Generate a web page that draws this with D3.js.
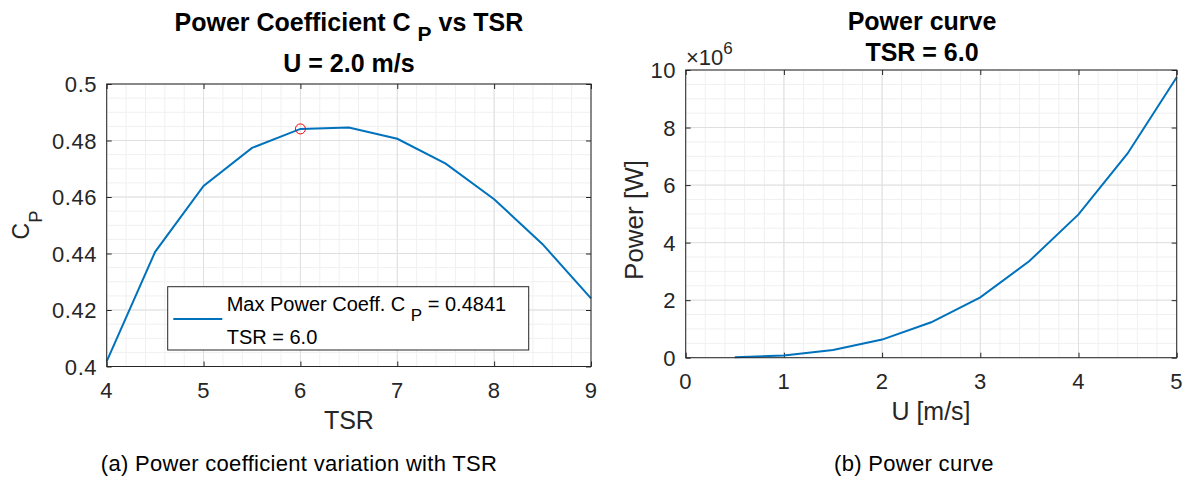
<!DOCTYPE html>
<html><head><meta charset="utf-8">
<script src="https://cdn.jsdelivr.net/npm/d3@7"></script>
<style>
html,body{margin:0;padding:0;background:#fff;}
svg{display:block;font-family:"Liberation Sans",Arial,Helvetica,sans-serif;}
</style></head>
<body><svg id="c" width="1189" height="479"></svg>
<script>
// ---- data ----
const tsr = [4, 4.5, 5, 5.5, 6, 6.5, 7, 7.5, 8, 8.5, 9];
const cp = [0.4018, 0.4406, 0.4639, 0.4774, 0.4841, 0.4846, 0.4806, 0.4718, 0.4592, 0.4433, 0.4241];
const maxPoint = {tsr: 6.0, cp: 0.4841};
const speed = [0.5, 1, 1.5, 2, 2.5, 3, 3.5, 4, 4.5, 5];
const power = [0.015e6, 0.078e6, 0.27e6, 0.63e6, 1.23e6, 2.1e6, 3.36e6, 4.98e6, 7.1e6, 9.75e6];
const leftXTicks = [4, 5, 6, 7, 8, 9];
const leftYTicks = [0.4, 0.42, 0.44, 0.46, 0.48, 0.5];
const leftYLabels = ["0.4", "0.42", "0.44", "0.46", "0.48", "0.5"];
const rightXTicks = [0, 1, 2, 3, 4, 5];
const rightYTicks = [0, 2e6, 4e6, 6e6, 8e6, 10e6];
const rightYLabels = ["0", "2", "4", "6", "8", "10"];

const svg = d3.select("#c");
const AX = "#262626", LINE = "#0072BD";

function panel(o) {
  const x = d3.scaleLinear().domain(o.xd).range([o.l, o.r]);
  const y = d3.scaleLinear().domain(o.yd).range([o.b, o.t]);
  const g = svg.append("g");
  const mx = d3.range(o.xd[0], o.xd[1] + 1e-9, o.xminor);
  const my = d3.range(o.yd[0], o.yd[1] + o.yminor * 1e-3, o.yminor);
  g.selectAll(".mgx").data(mx).enter().append("line")
    .attr("x1", d => x(d)).attr("x2", d => x(d)).attr("y1", o.t).attr("y2", o.b)
    .attr("stroke", "#f0f0f0").attr("stroke-width", 1);
  g.selectAll(".mgy").data(my).enter().append("line")
    .attr("y1", d => y(d)).attr("y2", d => y(d)).attr("x1", o.l).attr("x2", o.r)
    .attr("stroke", "#f0f0f0").attr("stroke-width", 1);
  g.selectAll(".gx").data(o.xt).enter().append("line")
    .attr("x1", d => x(d)).attr("x2", d => x(d)).attr("y1", o.t).attr("y2", o.b)
    .attr("stroke", "#dfdfdf").attr("stroke-width", 1);
  g.selectAll(".gy").data(o.yt).enter().append("line")
    .attr("y1", d => y(d)).attr("y2", d => y(d)).attr("x1", o.l).attr("x2", o.r)
    .attr("stroke", "#dfdfdf").attr("stroke-width", 1);
  const tl = 5;
  g.append("g").attr("transform", `translate(0,${o.b})`)
    .call(d3.axisBottom(x).tickValues(o.xt).tickSize(-tl).tickFormat(""))
    .call(a => { a.select(".domain").remove(); a.selectAll("line").attr("stroke", AX); });
  g.append("g").attr("transform", `translate(0,${o.t})`)
    .call(d3.axisTop(x).tickValues(o.xt).tickSize(-tl).tickFormat(""))
    .call(a => { a.select(".domain").remove(); a.selectAll("line").attr("stroke", AX); });
  g.append("g").attr("transform", `translate(${o.l},0)`)
    .call(d3.axisLeft(y).tickValues(o.yt).tickSize(-tl).tickFormat(""))
    .call(a => { a.select(".domain").remove(); a.selectAll("line").attr("stroke", AX); });
  g.append("g").attr("transform", `translate(${o.r},0)`)
    .call(d3.axisRight(y).tickValues(o.yt).tickSize(-tl).tickFormat(""))
    .call(a => { a.select(".domain").remove(); a.selectAll("line").attr("stroke", AX); });
  g.selectAll(".xl").data(o.xt).enter().append("text")
    .attr("x", d => x(d)).attr("y", o.b + 31.5).attr("text-anchor", "middle")
    .attr("font-size", 22).attr("letter-spacing", 0.5).attr("fill", AX).text(d => d);
  g.selectAll(".yl").data(o.yt).enter().append("text")
    .attr("x", o.l - 9.5).attr("y", d => y(d) + 8).attr("text-anchor", "end")
    .attr("font-size", 22).attr("letter-spacing", 0.6).attr("fill", AX).text((d, i) => o.yl[i]);
  return {x, y, g};
}

// ---- left panel ----
const L = panel({xd: [4, 9], yd: [0.4, 0.5], l: 106.7, r: 591, t: 84, b: 366.5,
  xt: leftXTicks, yt: leftYTicks, yl: leftYLabels, xminor: 0.2, yminor: 0.005});
L.g.append("path").datum(tsr.map((t, i) => [t, cp[i]]))
  .attr("d", d3.line().x(d => L.x(d[0])).y(d => L.y(d[1])))
  .attr("fill", "none").attr("stroke", LINE).attr("stroke-width", 2);
L.g.append("circle").attr("cx", L.x(maxPoint.tsr)).attr("cy", L.y(maxPoint.cp)).attr("r", 5)
  .attr("fill", "none").attr("stroke", "#ff0000").attr("stroke-width", 1);
L.g.append("rect").attr("x", 106.7).attr("y", 84).attr("width", 591 - 106.7).attr("height", 366.5 - 84)
  .attr("fill", "none").attr("stroke", AX).attr("stroke-width", 1);
const lg = L.g.append("g");
lg.append("rect").attr("x", 167.7).attr("y", 286.7).attr("width", 361).attr("height", 63.3)
  .attr("fill", "#fff").attr("stroke", AX).attr("stroke-width", 1);
lg.append("line").attr("x1", 173.3).attr("x2", 222.3).attr("y1", 319).attr("y2", 319)
  .attr("stroke", LINE).attr("stroke-width", 2);
const lt = lg.append("text").attr("x", 226.7).attr("y", 311).attr("font-size", 20).attr("fill", "#000");
lt.append("tspan").text("Max Power Coeff. C ");
lt.append("tspan").attr("dy", 10).attr("font-size", 17).text("P");
lt.append("tspan").attr("dy", -10).text(" = " + maxPoint.cp.toFixed(4));
lg.append("text").attr("x", 226.7).attr("y", 344).attr("font-size", 20).attr("fill", "#000")
  .text("TSR = " + maxPoint.tsr.toFixed(1));
const t1 = svg.append("text").attr("x", 348.9).attr("y", 31).attr("text-anchor", "middle")
  .attr("font-size", 25).attr("font-weight", "bold").attr("fill", "#000");
t1.append("tspan").text("Power Coefficient C ");
t1.append("tspan").attr("dy", 10).attr("font-size", 21).text("P");
t1.append("tspan").attr("dy", -10).text(" vs TSR");
svg.append("text").attr("x", 348.9).attr("y", 72.3).attr("text-anchor", "middle")
  .attr("font-size", 25).attr("font-weight", "bold").attr("fill", "#000").text("U = 2.0 m/s");
svg.append("text").attr("x", 348.9).attr("y", 429).attr("text-anchor", "middle")
  .attr("font-size", 25).attr("fill", AX).text("TSR");
const yl1 = svg.append("text").attr("transform", "translate(28.5,225) rotate(-90)")
  .attr("text-anchor", "middle").attr("font-size", 23).attr("fill", AX);
yl1.append("tspan").text("C");
yl1.append("tspan").attr("dy", 13).attr("font-size", 18.5).text("P");
svg.append("text").attr("x", 299).attr("y", 471).attr("text-anchor", "middle")
  .attr("font-size", 22).attr("letter-spacing", 0.3).attr("fill", "#000").text("(a) Power coefficient variation with TSR");

// ---- right panel ----
const R = panel({xd: [0, 5], yd: [0, 1e7], l: 685.7, r: 1176.7, t: 70, b: 357.7,
  xt: rightXTicks, yt: rightYTicks, yl: rightYLabels, xminor: 0.2, yminor: 0.5e6});
R.g.append("path").datum(speed.map((u, i) => [u, power[i]]))
  .attr("d", d3.line().x(d => R.x(d[0])).y(d => R.y(d[1])))
  .attr("fill", "none").attr("stroke", LINE).attr("stroke-width", 2);
R.g.append("rect").attr("x", 685.7).attr("y", 70).attr("width", 1176.7 - 685.7).attr("height", 357.7 - 70)
  .attr("fill", "none").attr("stroke", AX).attr("stroke-width", 1);
const ex = svg.append("text").attr("x", 686).attr("y", 65).attr("font-size", 22).attr("fill", AX);
ex.append("tspan").text("\u00d710");
ex.append("tspan").attr("dy", -11).attr("font-size", 17).text("6");
svg.append("text").attr("x", 922).attr("y", 30).attr("text-anchor", "middle")
  .attr("font-size", 25).attr("font-weight", "bold").attr("fill", "#000").text("Power curve");
svg.append("text").attr("x", 922).attr("y", 61).attr("text-anchor", "middle")
  .attr("font-size", 25).attr("font-weight", "bold").attr("fill", "#000").text("TSR = 6.0");
svg.append("text").attr("x", 931).attr("y", 420).attr("text-anchor", "middle")
  .attr("font-size", 25).attr("fill", AX).text("U [m/s]");
svg.append("text").attr("transform", "translate(643,220) rotate(-90)")
  .attr("text-anchor", "middle").attr("font-size", 26).attr("fill", AX).text("Power [W]");
svg.append("text").attr("x", 914).attr("y", 471).attr("text-anchor", "middle")
  .attr("font-size", 22).attr("letter-spacing", 0.3).attr("fill", "#000").text("(b) Power curve");
</script></body></html>
